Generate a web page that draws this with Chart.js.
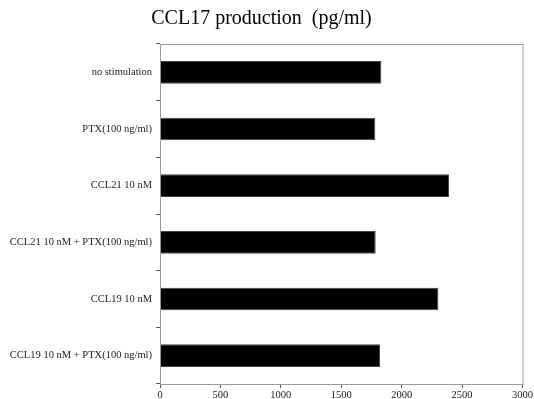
<!DOCTYPE html>
<html>
<head>
<meta charset="utf-8">
<script src="https://cdn.jsdelivr.net/npm/chart.js@4"></script>
<style>
  body { margin: 0; background: #fff; }
  #wrap { width: 534px; height: 399px; }
</style>
</head>
<body>
<div id="wrap"><canvas id="grafico"></canvas></div>
<script>
const categorias = [
    'no stimulation',
    'PTX(100 ng/ml)',
    'CCL21 10 nM',
    'CCL21 10 nM + PTX(100 ng/ml)',
    'CCL19 10 nM',
    'CCL19 10 nM + PTX(100 ng/ml)'
];
const produccion = [1832, 1782, 2392, 1785, 2304, 1821];
const ticksX = [0, 500, 1000, 1500, 2000, 2500, 3000];

const fuente = 'Liberation Serif, Times New Roman, serif';

// marco gris alrededor del area del grafico
const marco = {
    id: 'marco',
    afterDraw(chart) {
        const { ctx, chartArea: a } = chart;
        ctx.save();
        ctx.strokeStyle = '#9a9a9a';
        ctx.lineWidth = 1;
        ctx.strokeRect(a.left + 0.5, a.top + 0.5, a.right - a.left, a.bottom - a.top);
        ctx.restore();
    }
};

const ctx = document.getElementById('grafico').getContext('2d');
new Chart(ctx, {
    type: 'bar',
    data: {
        labels: categorias,
        datasets: [{
            label: 'CCL17',
            data: produccion,
            backgroundColor: '#000',
            borderColor: '#444',
            borderWidth: 1,
            categoryPercentage: 1,
            barPercentage: 0.4
        }]
    },
    plugins: [marco],
    options: {
        indexAxis: 'y',
        responsive: true,
        maintainAspectRatio: false,
        animation: false,
        layout: { padding: { left: 0, right: 11, top: 0, bottom: 0 } },
        plugins: {
            legend: { display: false },
            tooltip: { enabled: false },
            title: {
                display: true,
                text: 'CCL17 production  (pg/ml)',
                color: '#000',
                font: { family: fuente, size: 20, weight: 'normal' },
                padding: { top: 7, bottom: 13 }
            }
        },
        scales: {
            x: {
                min: 0,
                max: 3000,
                afterBuildTicks: s => { s.ticks = ticksX.map(v => ({ value: v })); },
                afterFit: s => { s.height = 15; },
                grid: { drawOnChartArea: false, tickLength: 4, color: '#555' },
                border: { color: '#666' },
                ticks: {
                    color: '#222',
                    padding: 1,
                    font: { family: fuente, size: 10.5 },
                    callback: v => String(v)
                }
            },
            y: {
                afterFit: s => { s.width = 160; },
                grid: { drawOnChartArea: false, tickLength: 4, color: '#555' },
                border: { color: '#666' },
                ticks: { color: '#222', padding: 4, font: { family: fuente, size: 10.5 } }
            }
        }
    }
});
</script>
</body>
</html>
